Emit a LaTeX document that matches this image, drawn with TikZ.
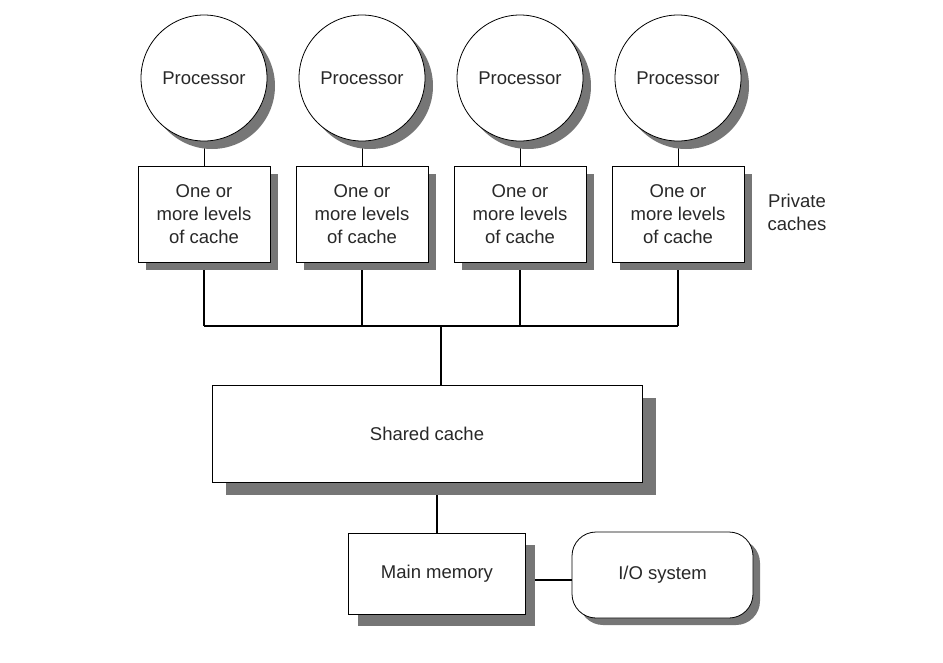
\documentclass[tikz,border=0pt]{standalone}
\usepackage{fontspec}
\setmainfont{Liberation Sans}
\usetikzlibrary{shadows,backgrounds}
\definecolor{shade}{RGB}{118,118,118}
\definecolor{txt}{RGB}{40,40,40}
\tikzset{
  sh/.style={drop shadow={shadow xshift=#1, shadow yshift=-#1, fill=shade, opacity=1}},
  proc/.style={circle, draw=black, line width=0.8pt, fill=white, minimum size=126pt, inner sep=0pt,
     font=\fontsize{18.5}{20}\selectfont, text=txt, sh=8pt},
  cachebox/.style={rectangle, draw=black, line width=0.8pt, fill=white, minimum width=132pt, minimum height=96pt,
     align=center, font=\fontsize{18.5}{23}\selectfont, text=txt, sh=8pt},
  bigbox/.style={rectangle, draw=black, line width=0.8pt, fill=white, align=center,
     font=\fontsize{18.5}{20}\selectfont, text=txt},
  thin/.style={line width=0.9pt},
  thick/.style={line width=2pt},
}
\begin{document}
\begin{tikzpicture}[x=1pt,y=-1pt]
\useasboundingbox (0,0) rectangle (943,662);
\foreach \i/\x in {1/204,2/362,3/520,4/678}{
  \node[proc] (p\i) at (\x,78) {Processor};
  \node[cachebox] (c\i) at (\x,214) {One or\\more levels\\of cache};
}
\node[font=\fontsize{18.5}{23}\selectfont, text=txt, align=center] (priv) at (797,212) {Private\\caches};
\node[bigbox, minimum width=430pt, minimum height=97pt,
  drop shadow={shadow xshift=14pt, shadow yshift=-12pt, fill=shade, opacity=1}] (sc) at (427,434) {Shared cache};
\node[bigbox, minimum width=177pt, minimum height=81pt,
  drop shadow={shadow xshift=9pt, shadow yshift=-12pt, fill=shade, opacity=1}] (mm) at (437,573.5) {Main memory};
\node[bigbox, rounded corners=24pt, minimum width=181pt, minimum height=86pt,
  drop shadow={shadow xshift=7pt, shadow yshift=-7pt, fill=shade, opacity=1}] (io) at (662.5,575) {I/O system};
\coordinate (bus) at (441,326);
\begin{scope}[on background layer]
\foreach \i in {1,...,4}{
  \draw[thin] (p\i.south) -- (c\i.north);
  \draw[thick] (c\i.south) -- (c\i.south |- bus);
}
\draw[thick] (c1.south |- bus) -- (c4.south |- bus);
\draw[thick] (bus) -- (bus |- sc.north);
\draw[thick] (sc.south -| mm.north) -- (mm.north);
\draw[thick] (mm.east |- 0,580) -- (io.west |- 0,580);
\end{scope}
\end{tikzpicture}
\end{document}
